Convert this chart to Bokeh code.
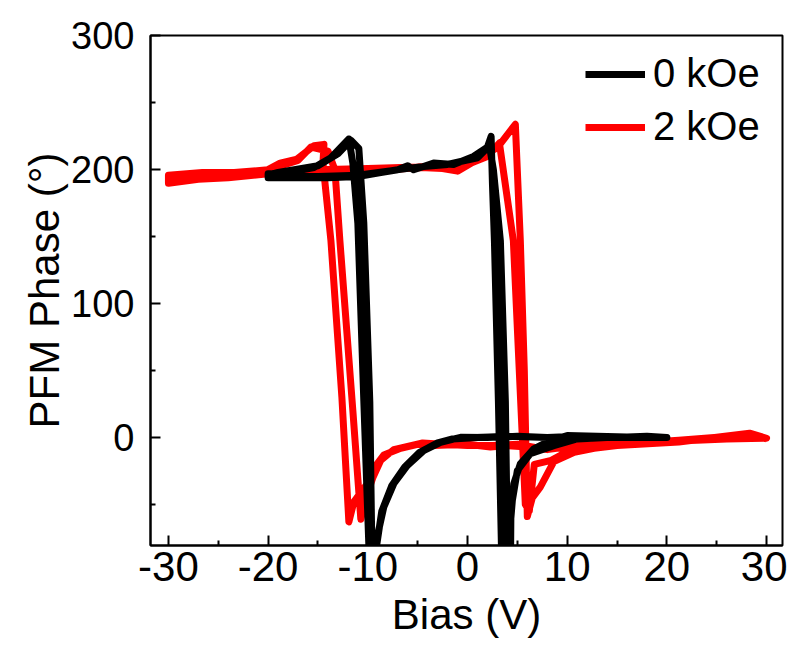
from bokeh.plotting import figure
from bokeh.models import Range1d, FixedTicker, Legend, LegendItem, CustomJSTickFormatter
from bokeh.embed import file_html
from bokeh.resources import INLINE

# ---- data: 0 kOe (black), two sweep cycles ----
bias_0koe = [20, 17, 14, 11, 8, 5, 2, -0.7, -2.7, -4.4, -6.05, -7.4, -8.4, -9.2, -9.6,
             -9.9, -10.4, -11.0, -11.5, -11.9, -13.7, -15.4, -18.8, -20,
             -20, -17, -14, -11, -8.7, -7, -6, -5.4, -3.4, -1.4, 0.6, 2.0, 2.37, 2.5, 2.7, 3.1, 3.4, 3.5,
             3.9, 4.14, 4.64, 5.3, 6.65, 8.3, 10, 13, 16, 18, 20,
             16, 12, 8, 4, 1, -1.5, -3, -4.8, -6.3, -7.6, -8.6, -9.3, -9.5,
             -9.6, -9.8, -10.4, -10.9, -11.7, -13, -15, -19, -20,
             -20, -15, -11, -8, -5, -2, 1, 2.2, 2.6, 3.3, 3.8, 4.0, 4.05,
             4.3, 4.35, 4.5, 5.0, 6.3, 8.66, 11, 14, 20]
phase_0koe = [0, 0.5, 0, 1, 0, 1, 0, 0.2, -3.5, -9.7, -21, -34.5, -52, -79, -110,
              -80, 27, 160, 205, 223, 209, 201.7, 196.8, 197,
              194, 194, 194, 195, 198, 200, 203, 200, 205, 204, 210, 217, 225, 190, 147, 27, -80, -110,
              -110, -79, -34.5, -19.6, -8.5, -2.2, 1.5, 1, 0.5, 1, 0,
              0, 0.5, 0, 1, 0, -1, -4, -11, -22, -36, -55, -90, -110,
              -80, 27, 160, 216, 222, 212, 203, 198, 196,
              195, 195, 196, 199, 202, 204, 209, 218, 200, 147, 27, -80, -110,
              -110, -60, -47, -24.6, -12, -6, -1, 0, 0]

# ---- data: 2 kOe (red), two sweep cycles ----
bias_2koe = [30, 28.3, 25.4, 21.2, 17, 12.7, 10.7, 8.6, 6, 4, 2.3, 0, -3.4, -5.0, -6.7, -8.4,
             -9.1, -10.1, -11.4, -11.9, -12.6, -13.7, -14.5, -14.4, -15.4, -17.1, -18.8,
             -20.3, -23, -26.6, -30,
             -30, -27, -24, -20, -16, -12, -8, -4.7, -2.5, -1.0, 1.3, 3.0, 4.8, 5.3, 5.7, 6.0,
             6.5, 7.3, 8.66, 10.7, 12.7, 15, 21.2, 25.4, 28.3, 30,
             26, 20, 15, 11, 8, 5, 2.5, 0, -2.5, -4.5, -7.4, -8.7, -9.5, -10.2, -10.7,
             -11.5, -12.8, -13.3, -14, -15.7, -17, -20, -25, -30,
             -30, -25, -20, -15, -10, -5, 0, 2, 3.2, 4.6, 5.5, 5.8, 6.2,
             6.7, 8.4, 10.4, 15, 21, 25.4, 28.3, 30]
phase_2koe = [-1, 3, 0.5, -2, -4, -6, -8, -8, -7, -6, -7, -5, -6, -5, -8, -13,
              -20, -35, -48, -63, 30, 147, 205, 219, 218, 208, 205,
              199, 198, 198, 196,
              190, 193, 194, 197, 199, 199, 200, 201.7, 201, 199, 209, 216.6, 234, 147, 50, -59,
              -45, -37, -18, -11, -8, -6, -3.3, 0.6, 3.3, -0.5,
              -1, -3, -4, -6, -9, -5, -6, -6, -5, -4, -9, -17, -30, -45, -61,
              20, 147, 200, 214, 217, 207, 200, 197, 193,
              192, 195, 198, 200, 201, 202, 204, 210, 220, 147, 0, -50, -55,
              -20, -17, -9, -6, -3, 0, 3, -1]

x_ticks = [-30, -20, -10, 0, 10, 20, 30]
x_minor = [-25, -15, -5, 5, 15, 25]
y_ticks = [0, 100, 200, 300]
y_minor = [-50, 50, 150, 250]

FONT = "Liberation Sans"

p = figure(frame_width=632, frame_height=510,
           x_range=Range1d(-31.8, 31.6), y_range=Range1d(-80.6, 300.3),
           output_backend="svg", toolbar_location=None,
           min_border_left=150, min_border_right=5, min_border_top=35, min_border_bottom=100)

p.xgrid.visible = False
p.ygrid.visible = False
p.outline_line_color = "black"
p.outline_line_width = 2
p.outline_line_alpha = 1
p.background_fill_color = "white"
p.border_fill_color = "white"

r_red = p.line(bias_2koe, phase_2koe, line_color="#ff0000", line_width=7, line_join="round")
r_black = p.line(bias_0koe, phase_0koe, line_color="black", line_width=7, line_join="round")

for ax in (p.xaxis[0], p.yaxis[0]):
    ax.axis_line_width = 2
    ax.axis_line_color = "black"
    ax.major_tick_line_width = 2
    ax.minor_tick_line_width = 2
    ax.major_tick_in = 10
    ax.major_tick_out = 0
    ax.minor_tick_in = 5
    ax.minor_tick_out = 0
    ax.major_label_text_font = FONT
    ax.axis_label_text_font = FONT
    ax.axis_label_text_font_style = "normal"
    ax.axis_label_text_color = "black"
    ax.major_label_text_color = "black"
    ax.axis_label_text_font_size = "42px"
    ax.formatter = CustomJSTickFormatter(code="return tick.toString();")

p.xaxis.ticker = FixedTicker(ticks=x_ticks, minor_ticks=x_minor)
p.yaxis.ticker = FixedTicker(ticks=y_ticks, minor_ticks=y_minor)
p.xaxis.major_label_text_font_size = "42px"
p.yaxis.major_label_text_font_size = "38px"
p.xaxis.major_label_standoff = 6
p.yaxis.major_label_standoff = 16
p.xaxis.axis_label = "Bias (V)"
p.yaxis.axis_label = "PFM Phase (°)"
p.xaxis.axis_label_standoff = 7
p.yaxis.axis_label_standoff = 0

legend = Legend(items=[LegendItem(label="0 kOe", renderers=[r_black]),
                       LegendItem(label="2 kOe", renderers=[r_red])],
                location="top_right")
legend.border_line_alpha = 0
legend.background_fill_alpha = 0
legend.glyph_width = 60
legend.glyph_height = 20
legend.label_text_font = FONT
legend.label_text_font_size = "40px"
legend.label_text_color = "black"
legend.label_width = 113
legend.label_standoff = 8
legend.spacing = 8
legend.padding = 5
legend.margin = 11
p.add_layout(legend)

open("out.html", "w").write(file_html(p, INLINE))
